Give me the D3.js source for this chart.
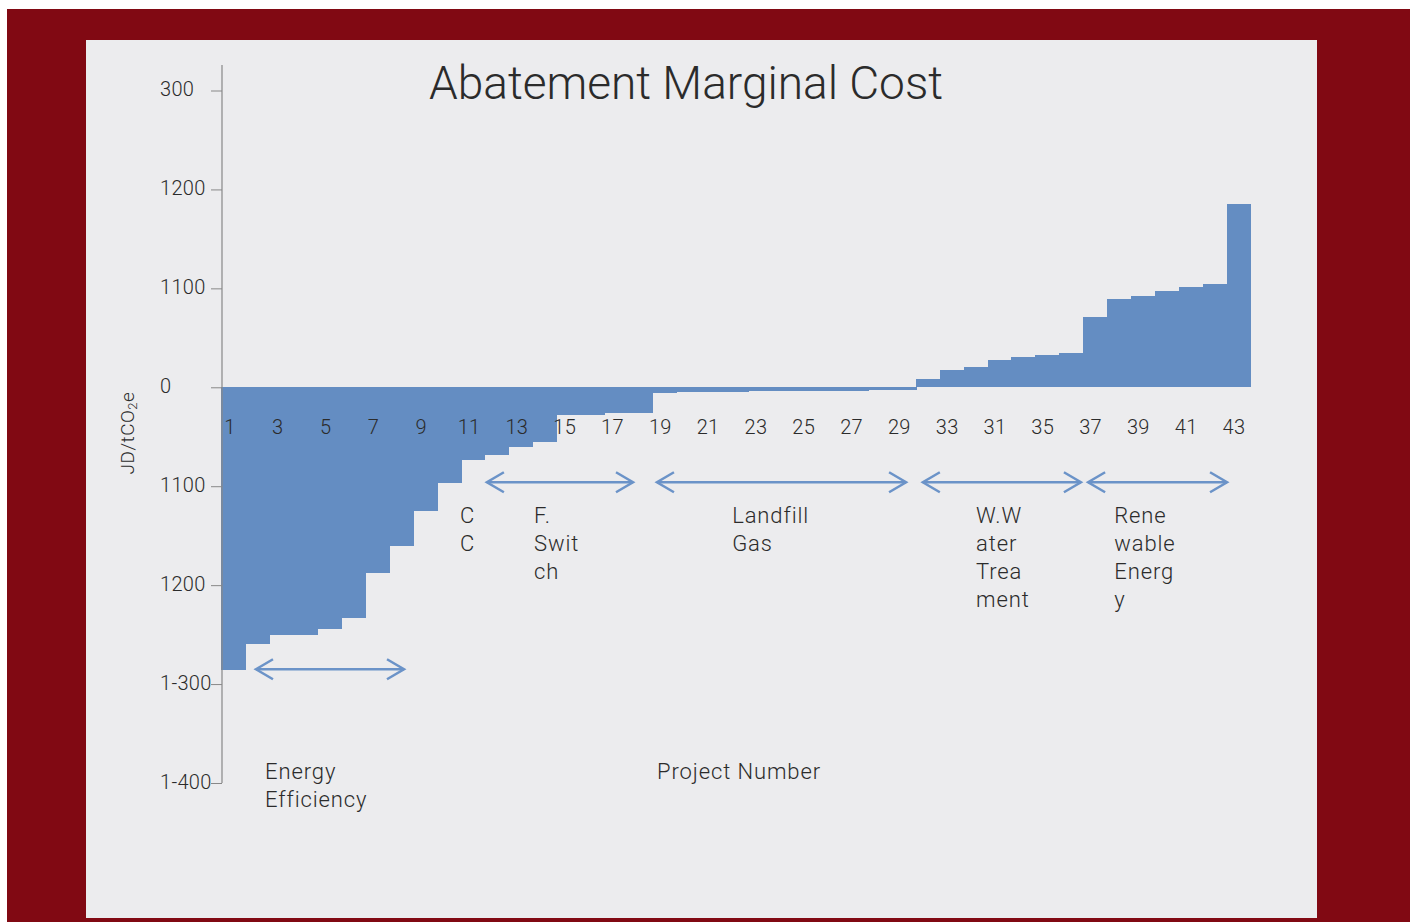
<!DOCTYPE html>
<html>
<head>
<meta charset="utf-8">
<script src="https://cdn.jsdelivr.net/npm/d3@7"></script>
<style>
  body { margin: 0; background: #fff; }
  text { font-family: Roboto, "Liberation Sans", sans-serif; font-weight: 300; fill: #2b2b2b; }
</style>
</head>
<body>
<script>
// project numbers 1..43 and their marginal cost (JD/tCO2e)
var projects = d3.range(1, 44);
var costs = [-286, -259, -250, -250, -244, -233, -188, -160, -125, -97,
  -73, -68, -60, -55, -28, -28, -26, -26, -6, -5,
  -5, -5, -4, -4, -4, -4, -4, -3, -3, 8,
  17, 21, 28, 31, 33, 35, 71, 89, 92, 97,
  101, 104, 185];

var xLabels = ["1", "3", "5", "7", "9", "11", "13", "15", "17", "19", "21",
  "23", "25", "27", "29", "33", "31", "35", "37", "39", "41", "43"];

var yTicks = [300, 200, 100, 0, -100, -200, -300, -400];
var yTickLabels = ["300", "1200", "1100", "0", "1100", "1200", "1-300", "1-400"];

// sector groups: text lines, arrow span (in project positions), text anchor position
var groupNames = [["Energy", "Efficiency"], ["C", "C"], ["F.", "Swit", "ch"],
  ["Landfill", "Gas"], ["W.W", "ater", "Trea", "ment"], ["Rene", "wable", "Energ", "y"]];
var groupSpans = [[1.46, 7.64], null, [11.1, 17.2], [18.2, 28.6], [29.3, 35.9], [36.2, 42.0]];
var groupTextAt = [1.84, 9.98, 13.07, 21.34, 31.52, 37.29];

var W = 1410, H = 924;
var svg = d3.select("body").append("svg")
  .attr("width", W)
  .attr("height", H);

svg.append("rect").attr("x", 7).attr("y", 9).attr("width", W - 7).attr("height", 913)
  .attr("fill", "#810913");
svg.append("rect").attr("x", 86).attr("y", 40).attr("width", 1231).attr("height", 878)
  .attr("fill", "#ececee");

var x = d3.scaleBand().domain(projects).range([221, 1251]).padding(0);
var pos = d3.scaleLinear().domain([0, 43]).range([221, 1251]);
var y = d3.scaleLinear().domain([-400, 300]).range([783, 90.5]);

var blue = "#648dc2";

svg.append("g").attr("shape-rendering", "crispEdges").selectAll("rect")
  .data(costs)
  .enter()
  .append("rect")
  .attr("x", function(d, i) { return x(projects[i]); })
  .attr("width", function(d, i) { return i < costs.length - 1 ? x.bandwidth() + 1 : x.bandwidth(); })
  .attr("y", function(d) { return d > 0 ? y(d) : y(0); })
  .attr("height", function(d) { return Math.abs(y(d) - y(0)); })
  .attr("fill", blue);

// y axis
var yAxis = d3.axisLeft(y)
  .tickValues(yTicks)
  .tickSize(11)
  .tickFormat(function(d, i) { return yTickLabels[i]; });

var ga = svg.append("g").attr("transform", "translate(222,0)").call(yAxis);
ga.select(".domain").remove();
ga.attr("font-family", null).attr("font-size", null);
ga.selectAll(".tick line").attr("stroke", "#888");
ga.selectAll(".tick text")
  .attr("x", -62)
  .attr("dy", "0.25em")
  .attr("text-anchor", "start")
  .style("font-size", "20px")
  .style("letter-spacing", "0.3px")
  .attr("fill", null);
svg.append("line")
  .attr("x1", 222).attr("x2", 222)
  .attr("y1", 65).attr("y2", y(-400))
  .attr("stroke", "#888").attr("stroke-width", 1.2);

// x labels
var xl = d3.scalePoint().domain(xLabels).range([230, 1234]);
svg.append("g").selectAll("text")
  .data(xLabels)
  .enter()
  .append("text")
  .attr("x", function(d) { return xl(d); })
  .attr("y", 434)
  .attr("text-anchor", "middle")
  .style("font-size", "20px")
  .style("letter-spacing", "0.3px")
  .text(function(d) { return d; });

// title
svg.append("text")
  .attr("x", 686).attr("y", 99)
  .attr("text-anchor", "middle")
  .style("font-size", "46px")
  .text("Abatement Marginal Cost");

// y title
var yt = svg.append("text")
  .attr("transform", "translate(134,433) rotate(-90)")
  .attr("text-anchor", "middle")
  .style("font-size", "19px")
  .style("letter-spacing", "0.5px");
yt.append("tspan").text("JD/tCO");
yt.append("tspan").style("font-size", "13px").attr("dy", 3).text("2");
yt.append("tspan").attr("dy", -3).text("e");

svg.append("text")
  .attr("x", pos(18.2)).attr("y", 779)
  .style("font-size", "22px")
  .style("letter-spacing", "0.9px")
  .text("Project Number");

// arrows
function arrow(x1, x2, yy) {
  var g = svg.append("g").attr("fill", "none").attr("stroke", "#6b93c8")
    .attr("stroke-width", 2.5);
  g.append("line").attr("x1", x1).attr("x2", x2).attr("y1", yy).attr("y2", yy);
  g.append("path").attr("d", "M" + (x1 + 17) + "," + (yy - 10) + "L" + x1 + "," + yy + "L" + (x1 + 17) + "," + (yy + 10));
  g.append("path").attr("d", "M" + (x2 - 17) + "," + (yy - 10) + "L" + x2 + "," + yy + "L" + (x2 - 17) + "," + (yy + 10));
}

groupNames.forEach(function(lines, i) {
  var first = i === 0;
  if (groupSpans[i]) {
    arrow(pos(groupSpans[i][0]), pos(groupSpans[i][1]), first ? y(-285) : y(-96));
  }
  var t = svg.append("text")
    .attr("x", pos(groupTextAt[i]))
    .attr("y", first ? 779 : 523)
    .style("font-size", "22px")
    .style("letter-spacing", "0.9px");
  lines.forEach(function(s, k) {
    t.append("tspan")
      .attr("x", pos(groupTextAt[i]))
      .attr("dy", k === 0 ? 0 : 28)
      .text(s);
  });
});
</script>
</body>
</html>
